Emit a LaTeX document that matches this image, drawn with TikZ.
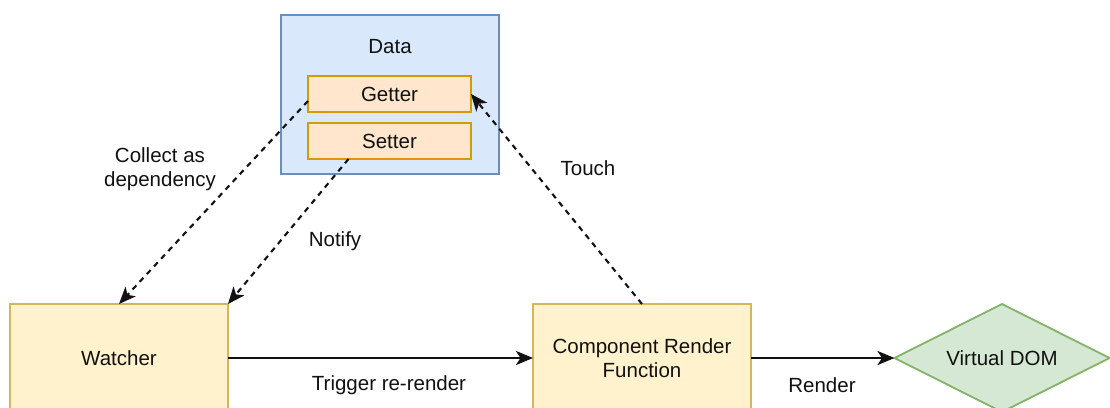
\documentclass[tikz,border=0pt]{standalone}
\usepackage{fontspec}
\setmainfont{Liberation Sans}
\usetikzlibrary{arrows.meta,shapes.geometric}

\definecolor{blueFill}{HTML}{DAE8FC}
\definecolor{blueLine}{HTML}{6C8EBF}
\definecolor{orangeFill}{HTML}{FFE6CC}
\definecolor{orangeLine}{HTML}{D79B00}
\definecolor{yellowFill}{HTML}{FFF2CC}
\definecolor{yellowLine}{HTML}{D6B656}
\definecolor{greenFill}{HTML}{D5E8D4}
\definecolor{greenLine}{HTML}{82B366}
\definecolor{ink}{HTML}{111111}

\tikzset{
  every node/.style={font=\fontsize{20.5}{25}\selectfont, text=ink},
  box/.style={draw, line width=1.8pt, inner sep=0pt, outer sep=0pt},
  container/.style={box, fill=blueFill, draw=blueLine, minimum width=218pt, minimum height=159pt},
  field/.style={box, fill=orangeFill, draw=orangeLine, minimum width=163pt, minimum height=36pt},
  process/.style={box, fill=yellowFill, draw=yellowLine, minimum width=218pt, minimum height=108pt, align=center},
  result/.style={box, diamond, aspect=2, fill=greenFill, draw=greenLine, minimum width=215pt, minimum height=108pt},
  tip/.style={-{Stealth[length=17pt,width=14pt,inset=4.5pt]}},
  flow/.style={tip, line width=2.3pt, draw=ink},
  link/.style={tip, line width=2.1pt, draw=ink, dash pattern=on 5.5pt off 5pt},
  caption/.style={align=center, inner sep=0pt}
}

\begin{document}
\begin{tikzpicture}[x=1pt, y=-1pt]
  \clip (0,0) rectangle (1110,407);
  \fill[white] (0,0) rectangle (1110,407);

  % reactive data object with its accessors
  \node[container] (data) at (390,94.5) {};
  \node[caption] (dataTitle) at (390,47) {Data};
  \node[field] (getter) at (389.5,94) {Getter};
  \node[field] (setter) at (389.5,141) {Setter};

  % watcher, render function and its output
  \node[process] (watcher) at (119,358) {Watcher};
  \node[process] (render) at (642,358) {Component Render\\[-1pt]Function};
  \node[result] (vdom) at (1002,358) {Virtual DOM};

  % solid flow
  \draw[flow] (watcher.east) -- (render.west);
  \draw[flow] (render.east) -- (vdom.west);

  % dependency tracking
  \draw[link] ([yshift=-7pt]getter.west) -- (watcher.north);
  \draw[link] ([xshift=-41pt]setter.south) -- (watcher.north east);
  \draw[link] (render.north) -- (getter.east);

  % edge captions
  \node[caption] (lblCollect) at (160,169) {Collect as\\[-1pt]dependency};
  \node[caption] (lblNotify) at (335,241) {Notify};
  \node[caption] (lblTouch) at (588,168) {Touch};
  \node[caption] (lblTrigger) at (389,385) {Trigger re-render};
  \node[caption] (lblRender) at (822,385) {Render};
\end{tikzpicture}
\end{document}
